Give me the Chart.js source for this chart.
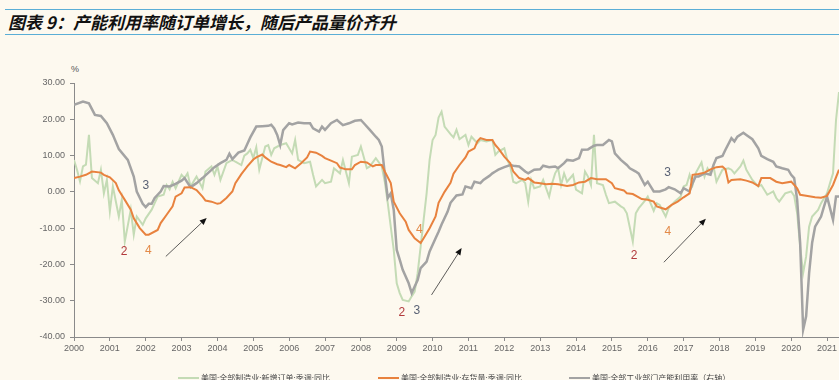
<!DOCTYPE html>
<html><head><meta charset="utf-8">
<script src="https://cdn.jsdelivr.net/npm/chart.js@4"></script>
<style>
html,body{margin:0;padding:0;background:#fdf9ef;}
#wrap{position:relative;width:839px;height:380px;overflow:hidden;background:#fdf9ef;}
.hl{position:absolute;left:5px;width:834px;height:0;border-top:1.5px solid #5aaed6;}
#title{position:absolute;left:8px;top:12px;line-height:19px;font-family:"Noto Sans CJK SC",sans-serif;font-weight:bold;font-style:italic;font-size:17px;color:#111;white-space:nowrap;}
#unit{position:absolute;left:71px;top:64px;font:9px "Liberation Sans",Arial,sans-serif;color:#555;}
canvas{position:absolute;left:0;top:0;}
.lg{position:absolute;top:372px;height:12px;white-space:nowrap;font-family:"Noto Sans CJK SC",sans-serif;font-size:8px;line-height:12px;color:#444;}
.lg i{display:inline-block;width:21px;height:0;border-top:2.5px solid;vertical-align:middle;margin-right:2px;position:relative;top:-1px;}
</style></head>
<body>
<div id="wrap">
  <div class="hl" style="top:9px"></div>
  <div class="hl" style="top:34px"></div>
  <div id="title">图表 9：产能利用率随订单增长，随后产品量价齐升</div>
  <div id="unit">%</div>
  <canvas id="c" width="839" height="380"></canvas>
  <div id="legend"></div>
</div>
<script>
// ---- data (months counted from Jan 2000) ----
const startYear = 2000;
const lastMonth = 256;
const seriesNames = ['美国:全部制造业:新增订单:季调:同比','美国:全部制造业:存货量:季调:同比','美国:全部工业部门产能利用率（右轴）'];

const greenMonths = [0,1,2,3,4,5,6,8,9,10,11,12,13,15,16,17,19,20,21,23,24,26,27,28,30,31,32,33,34,36,37,38,39,41,43,44,46,47,48,49,51,53,54,56,57,58,59,60,61,62,64,65,66,67,69,71,73,74,75,77,79,80,81,83,84,86,87,89,90,92,93,95,96,98,99,101,103,104,105,106,107,108,109,110,112,113,114,115,116,117,118,119,120,121,122,123,124,126,127,128,129,131,132,133,135,136,138,140,141,142,144,145,146,147,148,150,151,152,153,154,156,157,159,160,161,162,163,164,165,167,168,170,171,172,173,174,175,177,178,179,181,183,184,185,187,188,189,191,192,194,195,196,198,199,201,203,204,205,206,207,208,210,211,212,213,214,215,217,219,220,221,223,224,225,227,229,230,232,234,235,236,238,240,241,242,243,244,245,246,247,249,250,252,253,254,255,256];
const greenValues = [8.8,6.1,2.9,7.0,7.5,15.7,3.8,2.4,6.1,-0.4,3.3,-5.4,1.5,-6.8,-2.2,-13.7,-4.9,-11.8,-6.8,-9.1,-7.3,-4.9,-3.1,-1.3,-0.8,1.9,0.7,2.8,1.0,4.7,3.8,5.1,1.5,4.2,1.0,5.6,7.0,4.7,7.0,3.3,7.9,8.8,8.3,7.4,10.0,10.6,11.6,9.3,12.3,6.1,12.5,12.9,10.2,12.0,12.9,13.4,10.6,14.3,8.8,7.9,8.3,4.7,1.5,3.3,2.4,2.8,6.5,5.1,8.8,2.4,9.7,10.2,12.5,6.5,7.0,9.3,7.0,2.8,-3.1,-9.6,-16.0,-25.2,-27.9,-29.8,-30.2,-28.8,-27.5,-22.4,-15.1,-7.7,-0.4,8.8,14.3,15.7,20.5,22.1,18.0,15.9,15.0,17.1,14.5,15.7,12.9,15.2,13.4,14.3,13.9,14.3,10.2,11.1,12.0,8.8,7.0,2.8,2.4,3.3,2.4,-2.7,3.3,1.0,1.5,3.3,-1.3,2.4,5.1,6.5,1.9,5.1,2.8,4.7,0.6,-0.4,5.6,4.2,1.9,15.7,2.4,1.9,-0.8,-3.1,-2.7,-4.0,-4.5,-5.9,-13.7,-5.9,-4.5,-2.5,-1.3,-5.2,-3.1,-3.6,-6.8,-4.5,-2.7,-1.3,1.5,1.9,4.7,1.9,5.1,8.1,4.2,6.5,5.1,7.0,2.8,6.1,6.5,6.1,5.1,7.0,8.6,6.1,3.3,1.5,1.9,-0.8,0.1,-1.7,-2.7,-0.4,0.1,-1.1,-5.9,-15.1,-22.4,-17.8,-9.6,-6.8,-5.0,-3.1,-0.4,2.4,5.1,19.8,27.5];

const orangeMonths = [0,2,4,6,9,10,12,14,15,17,19,20,22,24,25,28,29,31,33,34,36,37,39,41,43,44,46,48,49,51,53,54,56,58,60,61,63,64,66,68,69,71,72,74,76,78,79,81,83,84,86,88,89,91,93,94,96,98,100,101,103,104,106,107,109,111,112,114,116,117,119,121,122,124,126,127,129,131,132,134,135,136,138,140,141,142,144,146,147,149,151,152,154,156,158,160,162,165,167,169,171,173,175,178,180,181,184,185,187,189,190,192,194,195,198,200,202,204,206,207,209,211,213,215,217,218,219,220,223,225,227,229,230,233,235,237,240,242,243,245,248,250,252,254,256];
const orangeValues = [3.8,4.2,4.7,5.6,5.3,4.7,4.0,2.4,0.4,-2.2,-4.9,-7.3,-10.0,-11.8,-11.8,-10.5,-8.6,-6.3,-4.0,-1.3,-0.4,1.2,1.3,0.5,-1.3,-2.4,-2.7,-3.3,-3.1,-1.7,0.1,2.4,4.9,7.0,8.9,9.5,10.3,9.5,8.3,7.6,7.4,6.8,7.4,6.5,7.9,9.5,11.1,10.8,9.9,9.3,8.6,7.9,6.7,6.2,6.2,7.4,8.3,8.1,7.0,7.4,7.4,5.6,2.4,-2.7,-5.9,-8.2,-10.5,-12.8,-14.1,-12.8,-10.0,-6.8,-3.0,0.0,2.5,5.0,7.4,9.5,11.1,12.0,13.9,14.8,14.3,14.3,12.9,12.0,9.7,7.9,5.6,3.8,3.3,3.8,2.6,2.4,2.1,2.2,2.1,1.6,1.9,2.6,2.8,3.8,3.5,3.5,2.4,1.0,0.4,-0.4,-0.6,-1.5,-2.0,-2.2,-2.7,-4.0,-4.8,-3.6,-2.7,-1.5,-0.4,4.7,4.9,5.3,6.2,6.8,7.0,6.2,2.6,3.3,3.5,3.1,2.6,1.6,3.8,3.8,2.8,2.4,2.8,1.0,-0.8,-1.1,-1.5,-1.6,-1.1,1.9,6.1];

const grayMonths = [0,3,5,7,9,11,13,15,18,20,21,23,24,25,26,27,29,30,32,34,36,37,39,41,43,45,47,49,51,52,53,55,57,58,59,61,63,65,66,67,68,69,70,72,73,75,77,79,80,82,83,84,86,88,90,92,94,96,97,99,101,102,103,104,105,106,107,108,109,110,112,113,115,116,118,119,121,122,123,125,126,128,130,131,133,134,136,137,139,140,141,142,144,146,147,149,151,152,154,156,157,159,161,162,164,165,167,169,170,172,174,175,177,179,180,181,183,185,186,188,189,191,192,194,196,198,199,201,203,204,206,207,208,209,211,213,214,215,217,218,220,221,222,224,225,227,229,230,232,234,235,237,239,240,241,242,243,244,245,246,247,248,250,251,252,254,255,256];
const grayValues = [24.0,24.9,24.4,21.2,20.9,18.9,15.7,11.8,8.8,4.2,0.1,-3.3,-4.2,-3.3,-3.3,-1.7,0.1,1.6,1.5,2.2,3.1,3.8,1.3,2.4,3.8,5.3,6.8,7.9,8.8,10.5,9.0,10.8,11.4,13.2,15.0,18.0,18.1,18.2,18.5,17.5,15.7,12.9,17.0,18.9,18.6,19.1,18.9,18.9,17.5,16.6,18.0,17.1,18.9,19.8,18.4,18.9,19.6,19.8,18.9,17.1,15.2,14.3,12.5,5.0,-1.7,-0.4,-5.0,-16.0,-18.7,-21.5,-25.2,-27.9,-24.3,-21.0,-19.2,-16.4,-12.8,-11.0,-9.0,-5.5,-3.0,-1.0,-0.7,1.5,1.0,2.8,2.4,3.3,4.4,5.1,5.6,6.1,6.8,7.4,7.2,7.0,5.6,5.1,6.1,6.2,7.2,6.8,7.0,6.5,7.9,8.8,8.6,9.3,11.6,11.7,12.7,12.9,12.9,14.3,13.9,10.6,8.8,7.4,6.5,5.6,5.0,1.9,2.8,0.1,0.1,0.7,1.3,0.7,-0.4,1.0,0.1,2.4,4.2,4.2,5.1,4.7,7.4,9.3,9.9,11.6,14.8,13.9,15.2,16.3,15.7,14.5,12.0,9.9,9.0,8.3,7.0,6.5,6.1,4.7,3.8,-2.2,-14.1,-38.0,-34.3,-22.4,-14.1,-9.6,-6.8,-4.0,-1.3,-7.7,-1.3,-1.3];

const yMin = -40, yMax = 30, yStep = 10;

// annotations (data space)
const noteLabels = [
  {t:'3', yr:2002.00, v:1.6,  c:'#5a6275'},
  {t:'2', yr:2001.40, v:-16.6, c:'#b23a3c'},
  {t:'4', yr:2002.07, v:-16.2, c:'#e38a48'},
  {t:'4', yr:2009.63, v:-10.5, c:'#e38a48'},
  {t:'2', yr:2009.14, v:-33.2, c:'#b23a3c'},
  {t:'3', yr:2009.56, v:-32.8, c:'#5a6275'},
  {t:'2', yr:2015.62, v:-17.5, c:'#b23a3c'},
  {t:'3', yr:2016.55, v:5.3,  c:'#5a6275'},
  {t:'4', yr:2016.56, v:-10.9, c:'#e38a48'}
];
const arrowList = [
  {yr1:2002.56, v1:-17.8, yr2:2003.70, v2:-7.2},
  {yr1:2009.97, v1:-28.4, yr2:2010.81, v2:-15.5},
  {yr1:2016.45, v1:-19.4, yr2:2017.62, v2:-7.4}
];

// ---- build ----
const colors = ['#c4dbb5', '#e8823e', '#a3a3a3'];
function pts(ms, vs){ const n=Math.min(ms.length, vs.length); const out=[]; for(let i=0;i<n;i++) out.push({x:startYear+ms[i]/12, y:vs[i]}); return out; }

const lg = document.getElementById('legend');
const lgPos = [178, 378, 569];
seriesNames.forEach((n,i)=>{
  const d=document.createElement('div'); d.className='lg'; d.style.left=lgPos[i]+'px';
  d.innerHTML='<i style="border-color:'+colors[i]+'"></i>'+n; lg.appendChild(d);
});

const notesPlugin = {
  id:'notes',
  afterDatasetsDraw(chart){
    const ctx=chart.ctx, xs=chart.scales.x, ys=chart.scales.y;
    ctx.save();
    ctx.font='12px "Liberation Sans", Arial, sans-serif';
    ctx.textAlign='center'; ctx.textBaseline='middle';
    noteLabels.forEach(n=>{ ctx.fillStyle=n.c; ctx.fillText(n.t, xs.getPixelForValue(n.yr), ys.getPixelForValue(n.v)); });
    ctx.strokeStyle='#333'; ctx.fillStyle='#111'; ctx.lineWidth=0.8;
    arrowList.forEach(a=>{
      const x1=xs.getPixelForValue(a.yr1), y1=ys.getPixelForValue(a.v1);
      const x2=xs.getPixelForValue(a.yr2), y2=ys.getPixelForValue(a.v2);
      const ang=Math.atan2(y2-y1,x2-x1), L=7, W=3;
      const bx=x2-L*Math.cos(ang), by=y2-L*Math.sin(ang);
      ctx.beginPath(); ctx.moveTo(x1,y1); ctx.lineTo(bx,by); ctx.stroke();
      ctx.beginPath(); ctx.moveTo(x2,y2);
      ctx.lineTo(bx+W*Math.sin(ang), by-W*Math.cos(ang));
      ctx.lineTo(bx-W*Math.sin(ang), by+W*Math.cos(ang));
      ctx.closePath(); ctx.fill();
    });
    ctx.restore();
  }
};

const tickFont = {family:'"Liberation Sans", Arial, sans-serif', size:9};
new Chart(document.getElementById('c'), {
  type:'line',
  data:{ datasets:[
    {label:seriesNames[0], data:pts(greenMonths,greenValues), borderColor:colors[0], borderWidth:2, pointRadius:0, tension:0, order:2},
    {label:seriesNames[1], data:pts(orangeMonths,orangeValues), borderColor:colors[1], borderWidth:2, pointRadius:0, tension:0, order:0},
    {label:seriesNames[2], data:pts(grayMonths,grayValues), borderColor:colors[2], borderWidth:2.5, pointRadius:0, tension:0, order:1}
  ]},
  options:{
    responsive:false, animation:false, events:[],
    layout:{padding:{top:83,left:0,right:0,bottom:0}},
    plugins:{legend:{display:false}, tooltip:{enabled:false}},
    scales:{
      x:{type:'linear', min:startYear, max:startYear+lastMonth/12,
         ticks:{stepSize:1, includeBounds:false, autoSkip:false, maxRotation:0, padding:2, color:'#666', font:tickFont,
                callback:v=>Number.isInteger(v)?String(v):''},
         grid:{display:true, drawOnChartArea:false, drawTicks:true, tickLength:4, color:'#8a8a8a'},
         border:{display:true, color:'#8a8a8a', width:1},
         afterFit(s){ s.height=43; s.paddingLeft=0; s.paddingRight=0; }},
      y:{min:yMin, max:yMax,
         ticks:{stepSize:yStep, padding:5, color:'#666', font:tickFont, callback:v=>v.toFixed(2)},
         grid:{display:true, drawOnChartArea:false, drawTicks:true, tickLength:4, color:'#8a8a8a'},
         border:{display:true, color:'#8a8a8a', width:1},
         afterFit(s){ s.width=74; }}
    }
  },
  plugins:[notesPlugin]
});
</script>
</body></html>
